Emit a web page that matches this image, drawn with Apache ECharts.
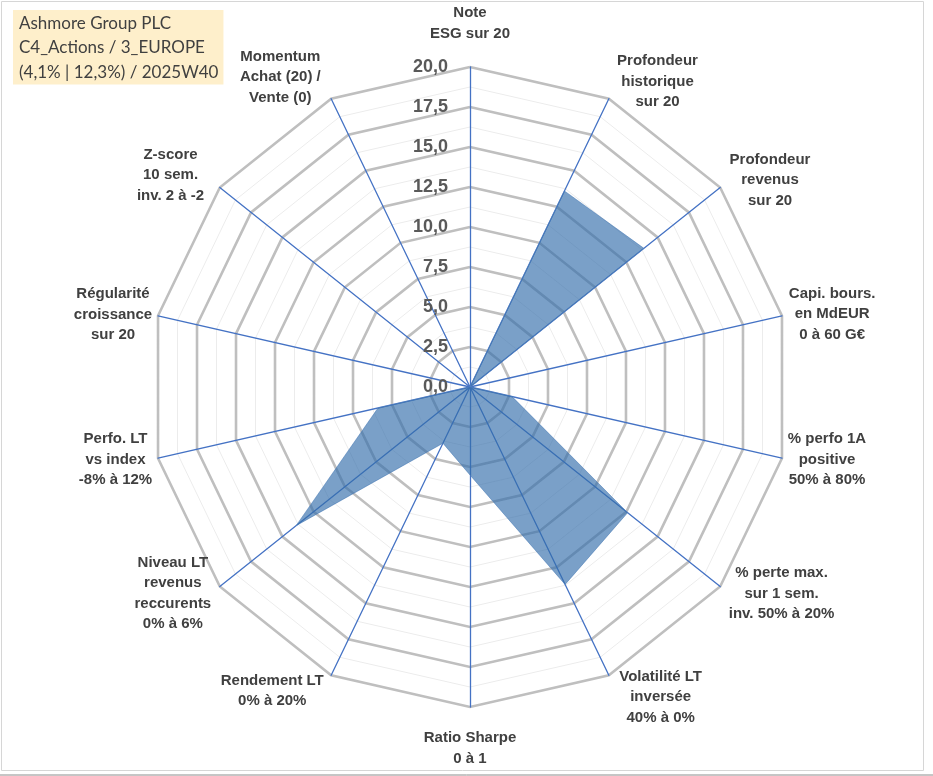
<!DOCTYPE html>
<html>
<head>
<meta charset="utf-8">
<script src="https://cdn.jsdelivr.net/npm/echarts@6/dist/echarts.min.js"></script>
<style>
html,body{margin:0;padding:0;background:#fff;}
#main{width:933px;height:776px;}
</style>
</head>
<body>
<div id="main"></div>
<script>
// axes, clockwise from the top (as in the picture)
var axisNames = [
    'Note\nESG sur 20',
    'Profondeur\nhistorique\nsur 20',
    'Profondeur\nrevenus\nsur 20',
    'Capi. bours.\nen MdEUR\n0 à 60 G€',
    '% perfo 1A\npositive\n50% à 80%',
    '% perte max.\nsur 1 sem.\ninv. 50% à 20%',
    'Volatilité LT\ninversée\n40% à 0%',
    'Ratio Sharpe\n0 à 1',
    'Rendement LT\n0% à 20%',
    'Niveau LT\nrevenus\nreccurents\n0% à 6%',
    'Perfo. LT\nvs index\n-8% à 12%',
    'Régularité\ncroissance\nsur 20',
    'Z-score\n10 sem.\ninv. 2 à -2',
    'Momentum\nAchat (20) /\nVente (0)'
];
// scores sur 20
var scores = [0, 13.6, 13.9, 0, 2.7, 12.6, 13.7, 5.5, 3.9, 13.9, 5.9, 0, 0, 0];
var tickValues = [0, 2.5, 5, 7.5, 10, 12.5, 15, 17.5, 20];
var tickLabels = ['0,0', '2,5', '5,0', '7,5', '10,0', '12,5', '15,0', '17,5', '20,0'];
var titleLines = ['Ashmore Group PLC', 'C4_Actions / 3_EUROPE', '(4,1% | 12,3%) / 2025W40'];

// layout only: distance of each axis name from the outer ring
var nameGaps = [23, 19, 12, 7, 6, 11, 24, 21, 17, 11, 6, 6, 20, 24];

(function(){
    var box = document.getElementById('main')
    var myChart = echarts.init(box)
    var n = axisNames.length
    var maxV = tickValues[tickValues.length - 1]
    var step = tickValues[1] - tickValues[0]
    // echarts tourne dans le sens inverse : on remet l'ordre horaire
    var ord = axisNames.map(function(d, i){ return i === 0 ? 0 : n - i })

    var minorInd = ord.map(function(k){
        return { name: axisNames[k], min: 0, max: maxV }
    })
    var majorInd = ord.map(function(k, i){
        return {
            name: axisNames[k], min: 0, max: maxV, nameGap: nameGaps[k],
            axisLabel: { show: i === 0 }
        }
    })

    var center = [470, 387]
    var radius = 320

    var option = {
        textStyle: { fontFamily: 'Liberation Sans' },
        title: {
            text: titleLines.join('\n'),
            left: 13,
            top: 10,
            backgroundColor: '#FEEFCB',
            padding: [1, 5, 0, 6],
            textStyle: {
                fontFamily: 'Lato',
                fontSize: 17,
                fontWeight: 'normal',
                color: '#404040',
                lineHeight: 24.5
            }
        },
        graphic: [
            { type: 'rect', shape: { x: 1.5, y: 1.5, width: 922, height: 769 },
              style: { fill: 'none', stroke: '#D6D6D6', lineWidth: 1 } },
            { type: 'line', shape: { x1: 0, y1: 775, x2: 933, y2: 775 },
              style: { stroke: '#8C8C8C', lineWidth: 1 } }
        ],
        radar: [
            {   // petits cercles intermédiaires
                center: center,
                radius: radius,
                startAngle: 90,
                shape: 'polygon',
                splitNumber: (maxV / step) * 2,
                indicator: minorInd,
                axisName: { show: false },
                axisLine: { show: false },
                axisTick: { show: false },
                axisLabel: { show: false },
                splitArea: { show: false },
                splitLine: { lineStyle: { color: '#ECECEC', width: 1 } }
            },
            {
                center: center,
                radius: radius,
                startAngle: 90,
                shape: 'polygon',
                splitNumber: maxV / step,
                indicator: majorInd,
                axisName: {
                    color: '#404040',
                    fontSize: 15,
                    fontWeight: 'bold',
                    formatter: function(name){
                        return name.split('\n').map(function(l){ return '{c|' + l + '}' }).join('\n')
                    },
                    rich: {
                        c: {
                            align: 'center',
                            color: '#404040',
                            fontSize: 15,
                            fontWeight: 'bold',
                            fontFamily: 'Liberation Sans',
                            lineHeight: 20.5
                        }
                    }
                },
                axisLine: { lineStyle: { color: '#4472C4', width: 1.3 } },
                axisTick: { show: false },
                axisLabel: {
                    show: false,
                    color: '#595959',
                    fontSize: 18,
                    fontWeight: 'bold',
                    margin: 22,
                    formatter: function(v){
                        var i = tickValues.indexOf(v)
                        return i >= 0 ? tickLabels[i] : ''
                    }
                },
                splitArea: { show: false },
                splitLine: { lineStyle: { color: '#BFBFBF', width: 2.6 } }
            }
        ],
        series: [
            {
                type: 'radar',
                radarIndex: 1,
                symbol: 'none',
                data: [{ value: ord.map(function(k){ return scores[k] }) }],
                lineStyle: { color: '#5F8AC0', width: 1, opacity: 0.6 },
                areaStyle: {
                    color: 'rgb(50,109,170)',
                    opacity: 0.65
                }
            }
        ]
    };
    myChart.setOption(option)
})();
</script>
</body>
</html>
